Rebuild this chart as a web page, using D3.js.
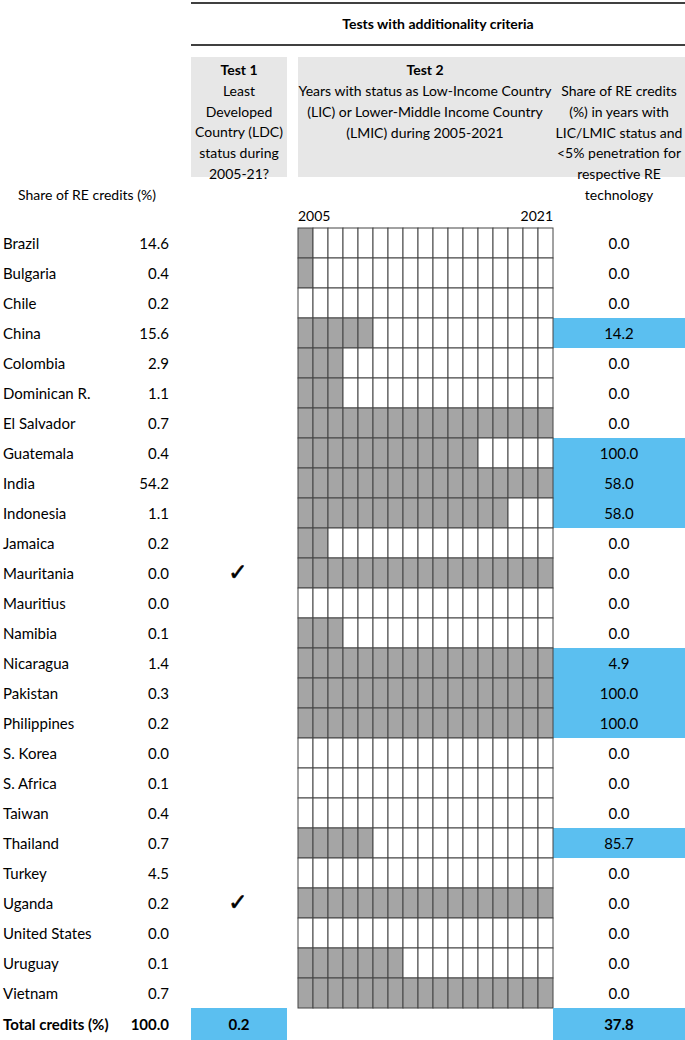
<!DOCTYPE html>
<html>
<head>
<meta charset="utf-8">
<script src="https://cdn.jsdelivr.net/npm/d3@7"></script>
<style>
  body { margin: 0; background: #fff; }
  svg { display: block; font-family: Lato, "Open Sans", sans-serif; }
</style>
</head>
<body>
<script>
// Data
const countries = ["Brazil", "Bulgaria", "Chile", "China", "Colombia", "Dominican R.", "El Salvador",
  "Guatemala", "India", "Indonesia", "Jamaica", "Mauritania", "Mauritius", "Namibia", "Nicaragua",
  "Pakistan", "Philippines", "S. Korea", "S. Africa", "Taiwan", "Thailand", "Turkey", "Uganda",
  "United States", "Uruguay", "Vietnam"];
const shares = [14.6, 0.4, 0.2, 15.6, 2.9, 1.1, 0.7, 0.4, 54.2, 1.1, 0.2, 0.0, 0.0, 0.1, 1.4,
  0.3, 0.2, 0.0, 0.1, 0.4, 0.7, 4.5, 0.2, 0.0, 0.1, 0.7];
const ldc = ["Mauritania", "Uganda"];
// number of years (from 2005) with LIC/LMIC status
const licYears = [1, 1, 0, 5, 3, 3, 17, 12, 17, 14, 2, 17, 0, 3, 17, 17, 17, 0, 0, 0, 5, 0, 17, 0, 7, 17];
const reShare = [0.0, 0.0, 0.0, 14.2, 0.0, 0.0, 0.0, 100.0, 58.0, 58.0, 0.0, 0.0, 0.0, 0.0, 4.9,
  100.0, 100.0, 0.0, 0.0, 0.0, 85.7, 0.0, 0.0, 0.0, 0.0, 0.0];
const years = d3.range(2005, 2022);
const totalShare = 100.0, totalTest1 = 0.2, totalTest2 = 37.8;

const width = 685, height = 1040;
const blue = "#5bbff0", headGrey = "#e7e7e7", cellGrey = "#a5a5a5";

const svg = d3.select("body").append("svg")
    .attr("width", width)
    .attr("height", height);

const y = d3.scaleBand().domain(countries).range([228, 1008]);
const x = d3.scaleBand().domain(years).range([298, 553]);

// Header lines + title
svg.append("line").attr("x1", 191).attr("x2", width).attr("y1", 3).attr("y2", 3)
    .attr("stroke", "#000").attr("stroke-width", 1.3);
svg.append("line").attr("x1", 191).attr("x2", width).attr("y1", 45).attr("y2", 45)
    .attr("stroke", "#000").attr("stroke-width", 1.3);
svg.append("text").attr("x", 438).attr("y", 29).attr("text-anchor", "middle")
    .attr("font-size", 14).attr("font-weight", "bold").text("Tests with additionality criteria");

// Header boxes
svg.append("rect").attr("x", 191).attr("y", 57).attr("width", 96).attr("height", 120).attr("fill", headGrey);
svg.append("rect").attr("x", 298).attr("y", 57).attr("width", width - 298).attr("height", 120).attr("fill", headGrey);

function block(cx, y0, lines, boldFirst) {
  const t = svg.append("text").attr("text-anchor", "middle").attr("font-size", 14);
  lines.forEach((s, i) => {
    t.append("tspan").attr("x", cx).attr("y", y0 + i * 20.8).text(s)
      .attr("font-weight", boldFirst && i === 0 ? "bold" : null);
  });
}
block(239, 75, ["Test 1", "Least", "Developed", "Country (LDC)", "status during", "2005-21?"], true);
svg.append("text").attr("x", 425).attr("y", 75).attr("text-anchor", "middle")
    .attr("font-size", 14).attr("font-weight", "bold").text("Test 2");
block(425, 96, ["Years with status as Low-Income Country", "(LIC) or Lower-Middle Income Country", "(LMIC) during 2005-2021"], false);
block(619, 96, ["Share of RE credits", "(%) in years with", "LIC/LMIC status and", "<5% penetration for", "respective RE", "technology"], false);

svg.append("text").attr("x", 18).attr("y", 200).attr("font-size", 14).text("Share of RE credits (%)");
svg.append("text").attr("x", x(2005)).attr("y", 221).attr("font-size", 14).text("2005");
svg.append("text").attr("x", x(2021) + x.bandwidth()).attr("y", 221).attr("text-anchor", "end")
    .attr("font-size", 14).text("2021");

// Right column blue highlights
svg.append("g").selectAll("rect")
  .data(countries.filter((c, i) => reShare[i] > 0))
  .join("rect")
    .attr("x", 553).attr("y", d => y(d))
    .attr("width", width - 553).attr("height", y.bandwidth())
    .attr("fill", blue);

// Grid of years
const cells = [];
countries.forEach((c, i) => years.forEach((yr, j) => cells.push({ c, yr, on: j < licYears[i] })));
svg.append("g").selectAll("rect")
  .data(cells)
  .join("rect")
    .attr("x", d => x(d.yr)).attr("y", d => y(d.c))
    .attr("width", x.bandwidth()).attr("height", y.bandwidth())
    .attr("fill", d => d.on ? cellGrey : "#fff")
    .attr("stroke", "#444").attr("stroke-width", 1);

// Row labels and values
const rows = svg.append("g").selectAll("g")
  .data(countries)
  .join("g")
    .attr("transform", d => `translate(0,${y(d) + y.bandwidth() / 2 + 5.5})`)
    .attr("font-size", 15);
rows.append("text").attr("x", 3).text(d => d);
rows.append("text").attr("x", 169).attr("text-anchor", "end").text((d, i) => shares[i].toFixed(1));
rows.append("text").attr("x", 619).attr("text-anchor", "middle").text((d, i) => reShare[i].toFixed(1));
rows.filter(d => ldc.includes(d)).append("text")
    .attr("x", 238).attr("y", 1).attr("text-anchor", "middle").attr("font-size", 23)
    .attr("stroke", "#000").attr("stroke-width", 0.6)
    .attr("font-family", "DejaVu Sans").text("\u2713");

// Total row
const ty = 1008, th = 32;
svg.append("rect").attr("x", 191).attr("y", ty).attr("width", 96).attr("height", th).attr("fill", blue);
svg.append("rect").attr("x", 553).attr("y", ty).attr("width", width - 553).attr("height", th).attr("fill", blue);
const tot = svg.append("g").attr("font-size", 15).attr("font-weight", "bold")
    .attr("transform", `translate(0,${ty + th / 2 + 5.5})`);
tot.append("text").attr("x", 3).text("Total credits (%)");
tot.append("text").attr("x", 169).attr("text-anchor", "end").text(totalShare.toFixed(1));
tot.append("text").attr("x", 239).attr("text-anchor", "middle").text(totalTest1.toFixed(1));
tot.append("text").attr("x", 619).attr("text-anchor", "middle").text(totalTest2.toFixed(1));
</script>
</body>
</html>
